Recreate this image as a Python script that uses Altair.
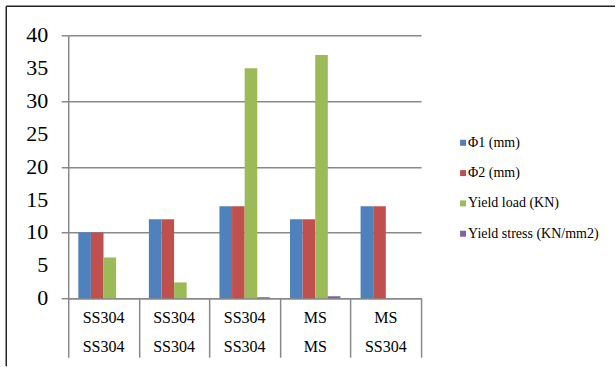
import altair as alt
import pandas as pd

row1 = ["SS304", "SS304", "SS304", "MS", "MS"]
row2 = ["SS304", "SS304", "SS304", "MS", "SS304"]
series = ["Φ1 (mm)", "Φ2 (mm)", "Yield load (KN)", "Yield stress (KN/mm2)"]
colors = ["#4F81BD", "#C0504D", "#9BBB59", "#8064A2"]
phi1 = [10, 12, 14, 12, 14]
phi2 = [10, 12, 14, 12, 14]
yield_load = [6.2, 2.4, 35, 37, 0]
yield_stress = [0, 0, 0.15, 0.3, 0]
y_ticks = [0, 5, 10, 15, 20, 25, 30, 35, 40]

groups = [str(i) for i in range(len(row1))]
vals = [phi1, phi2, yield_load, yield_stress]
rows = []
for s, v in zip(series, vals):
    for g, val in zip(groups, v):
        rows.append({"grp": g, "series": s, "value": val})
df = pd.DataFrame(rows)

GRAY = "#898989"
FONT = "Liberation Serif"

xscale = alt.Scale(domain=groups, paddingInner=0, paddingOuter=0)
yscale = alt.Scale(domain=[0, 40], nice=False)
cscale = alt.Scale(domain=series, range=colors)

bars = alt.Chart(df).mark_bar().encode(
    x=alt.X("grp:N", sort=groups, scale=xscale,
            axis=alt.Axis(title=None, labels=False,
                          tickBand="extent", tickSize=59, tickColor=GRAY, tickWidth=1.5,
                          domainColor=GRAY, domainWidth=1.5)),
    xOffset=alt.XOffset("series:N", sort=series,
                        scale=alt.Scale(domain=series, paddingInner=0, paddingOuter=0.8)),
    y=alt.Y("value:Q", scale=yscale,
            axis=alt.Axis(title=None, values=y_ticks, labels=False,
                          grid=True, gridColor=GRAY, gridWidth=1.5,
                          tickColor=GRAY, tickSize=7, tickWidth=1.5,
                          domainColor=GRAY, domainWidth=1.5)),
    color=alt.Color("series:N", sort=series, scale=cscale, legend=None),
)

ylab = alt.Chart(pd.DataFrame({"t": [str(v) for v in y_ticks], "v": y_ticks})).mark_text(
    font=FONT, fontSize=22, align="right", baseline="middle", color="black"
).encode(y=alt.Y("v:Q", scale=yscale), x=alt.value(-20), text="t:N")

xl1 = alt.Chart(pd.DataFrame({"grp": groups, "lab": row1})).mark_text(
    font=FONT, fontSize=16, baseline="middle", color="black"
).encode(x=alt.X("grp:N", sort=groups, scale=xscale), y=alt.value(283), text="lab:N")

xl2 = alt.Chart(pd.DataFrame({"grp": groups, "lab": row2})).mark_text(
    font=FONT, fontSize=16, baseline="middle", color="black"
).encode(x=alt.X("grp:N", sort=groups, scale=xscale), y=alt.value(312), text="lab:N")

one = pd.DataFrame({"a": [0]})
border_top = alt.Chart(one).mark_rule(stroke="#222222", strokeWidth=1.5).encode(
    x=alt.value(-62), x2=alt.value(547), y=alt.value(-29))
border_left = alt.Chart(one).mark_rule(stroke="#222222", strokeWidth=1.5).encode(
    x=alt.value(-62), y=alt.value(-29), y2=alt.value(331))

main = alt.layer(bars, ylab, xl1, xl2, border_top, border_left)

leg_df = pd.DataFrame({"series": series})
lscale = alt.Scale(type="point", domain=series, range=[107.5, 198.5], padding=0)
leg_sq = alt.Chart(leg_df).mark_square(size=36, opacity=1).encode(
    y=alt.Y("series:N", scale=lscale, axis=None),
    x=alt.value(395),
    color=alt.Color("series:N", sort=series, scale=cscale, legend=None),
)
leg_tx = alt.Chart(leg_df).mark_text(
    font=FONT, fontSize=14, align="left", baseline="middle", color="black"
).encode(
    y=alt.Y("series:N", scale=lscale, axis=None),
    x=alt.value(400),
    text="series:N",
)
legend = alt.layer(leg_sq, leg_tx)

chart = alt.layer(main, legend).resolve_scale(y="independent").properties(
    width=353, height=263,
    padding={"left": 5.25, "top": 5.25, "right": 0, "bottom": 0},
    background="white",
).configure_view(stroke=None)

chart.save("out.html", embed_options={"renderer": "svg", "actions": False})
